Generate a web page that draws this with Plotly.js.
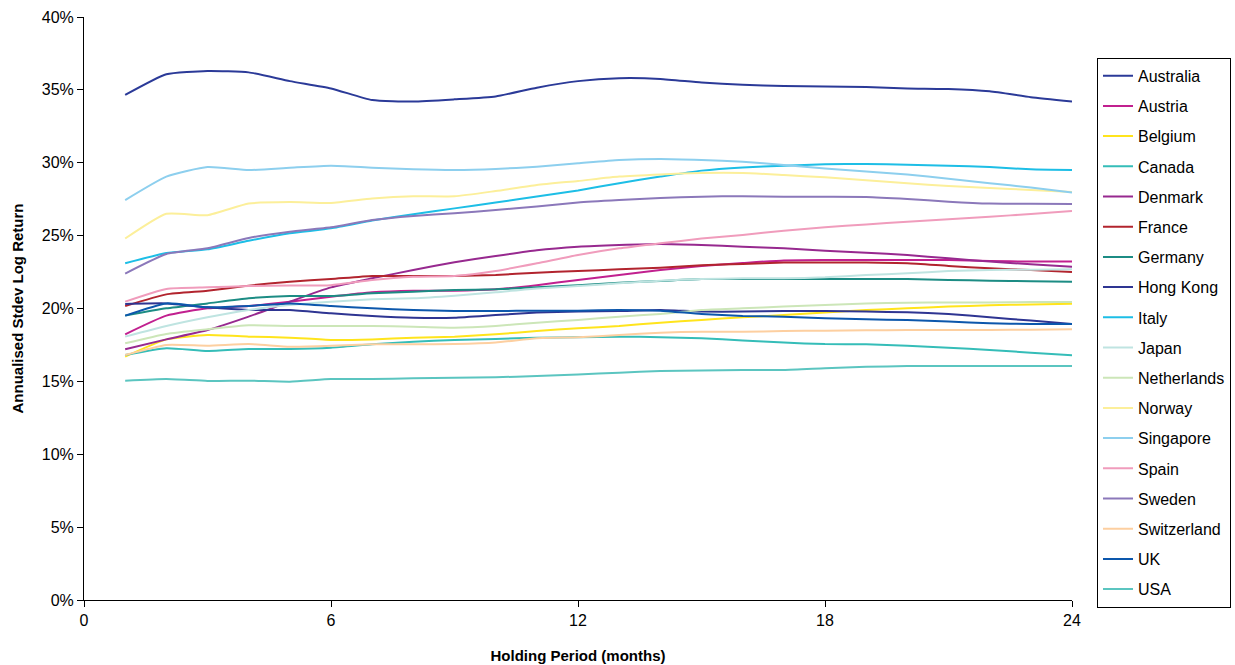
<!DOCTYPE html>
<html>
<head>
<meta charset="utf-8">
<script src="https://cdn.plot.ly/plotly-3.0.1.min.js"></script>
<style>html,body{margin:0;padding:0;background:#fff;}#chart{width:1235px;height:665px;}</style>
</head>
<body>
<div id="chart"></div>
<script>
const months = [1,2,3,4,5,6,7,8,9,10,11,12,13,14,15,16,17,18,19,20,21,22,23,24];

const australia   = [34.65,36.07,36.3,36.2,35.6,35.1,34.3,34.2,34.35,34.55,35.15,35.6,35.8,35.75,35.5,35.35,35.27,35.23,35.2,35.1,35.06,34.9,34.5,34.2];
const austria     = [18.23,19.51,20.01,20.17,20.47,20.81,21.11,21.22,21.22,21.32,21.6,21.96,22.3,22.64,22.92,23.12,23.3,23.33,23.33,23.33,23.33,23.26,23.22,23.22];
const belgium     = [16.7,17.88,18.18,18.07,18.0,17.84,17.88,18.0,18.07,18.23,18.46,18.64,18.8,19.03,19.21,19.4,19.55,19.72,19.9,20.01,20.13,20.22,20.28,20.33];
const canada      = [16.81,17.27,17.08,17.22,17.22,17.31,17.54,17.72,17.84,17.91,18.0,18.03,18.07,18.03,17.96,17.8,17.66,17.56,17.54,17.45,17.31,17.15,16.97,16.79];
const denmark     = [17.2,17.88,18.52,19.44,20.47,21.45,22.07,22.64,23.17,23.6,24.0,24.24,24.36,24.43,24.36,24.24,24.13,23.97,23.83,23.67,23.44,23.22,23.03,22.87];
const france      = [20.17,20.97,21.22,21.57,21.84,22.02,22.23,22.23,22.23,22.3,22.46,22.57,22.69,22.8,22.96,23.06,23.15,23.15,23.15,23.1,22.92,22.76,22.64,22.5];
const germany     = [19.51,20.01,20.35,20.7,20.86,20.86,21.04,21.15,21.27,21.32,21.45,21.6,21.77,21.89,22.02,22.02,22.02,22.02,22.02,22.02,21.96,21.91,21.87,21.84];
const hongKong    = [20.31,20.35,20.08,19.9,19.9,19.67,19.49,19.37,19.37,19.55,19.72,19.79,19.83,19.9,19.79,19.79,19.83,19.83,19.79,19.74,19.62,19.4,19.17,18.94];
const italy       = [23.1,23.8,24.06,24.65,25.16,25.5,26.03,26.47,26.87,27.27,27.68,28.1,28.6,29.05,29.46,29.68,29.8,29.9,29.92,29.87,29.8,29.7,29.55,29.5];
const japan       = [18.07,18.8,19.4,19.9,20.24,20.47,20.63,20.7,20.88,21.11,21.38,21.54,21.73,21.91,22.02,22.07,22.07,22.14,22.3,22.41,22.57,22.64,22.66,22.69];
const netherlands = [17.61,18.25,18.57,18.85,18.8,18.8,18.8,18.75,18.68,18.8,19.03,19.21,19.44,19.62,19.9,20.01,20.13,20.24,20.35,20.4,20.42,20.42,20.44,20.45];
const norway      = [24.8,26.5,26.4,27.2,27.3,27.24,27.54,27.7,27.7,28.06,28.47,28.75,29.05,29.2,29.3,29.3,29.16,29.0,28.8,28.6,28.4,28.27,28.13,28.0];
const singapore   = [27.44,29.05,29.7,29.5,29.66,29.8,29.66,29.55,29.5,29.57,29.73,29.96,30.19,30.26,30.19,30.07,29.85,29.6,29.4,29.2,28.9,28.6,28.3,27.95];
const spain       = [20.47,21.34,21.45,21.54,21.57,21.6,21.96,22.18,22.23,22.57,23.1,23.67,24.13,24.47,24.8,25.05,25.34,25.57,25.77,25.96,26.12,26.3,26.48,26.69];
const sweden      = [22.4,23.74,24.13,24.84,25.27,25.57,26.07,26.35,26.53,26.76,26.99,27.27,27.44,27.58,27.67,27.71,27.67,27.66,27.65,27.51,27.33,27.2,27.18,27.17];
const switzerland = [16.81,17.5,17.45,17.56,17.38,17.45,17.54,17.54,17.56,17.66,17.96,18.03,18.18,18.34,18.41,18.41,18.45,18.48,18.5,18.52,18.52,18.52,18.55,18.57];
const uk          = [19.51,20.35,20.08,20.17,20.35,20.17,20.01,19.9,19.83,19.83,19.85,19.85,19.9,19.85,19.62,19.49,19.44,19.33,19.26,19.21,19.1,18.99,18.94,18.94];
const usa         = [15.05,15.16,15.03,15.05,14.98,15.16,15.16,15.21,15.25,15.28,15.37,15.48,15.6,15.71,15.74,15.78,15.78,15.9,16.0,16.05,16.05,16.05,16.05,16.05];

const countries = ["Australia","Austria","Belgium","Canada","Denmark","France","Germany","Hong Kong","Italy","Japan","Netherlands","Norway","Singapore","Spain","Sweden","Switzerland","UK","USA"];
const seriesValues = [australia,austria,belgium,canada,denmark,france,germany,hongKong,italy,japan,netherlands,norway,singapore,spain,sweden,switzerland,uk,usa];
const colors = ["#2B3A98","#C1208F","#FFE41C","#35BDB8","#97298F","#B2242E","#1C8C84","#2E3592","#1DBEE6","#BFE4E1","#CCE6B8","#FCEF9A","#8DCFEE","#F09CBC","#8B78BA","#FDCFA0","#0C57AC","#5BC5C0"];

const traces = countries.map((name, i) => ({
  x: months,
  y: seriesValues[i].map(v => v / 100),
  type: "scatter",
  mode: "lines",
  name: name,
  legendgroup: "g" + i,
  line: {color: colors[i], width: 2, shape: "spline", smoothing: 0.5}
}));

const layout = {
  width: 1235,
  height: 665,
  margin: {l: 84, r: 163, t: 17, b: 65, autoexpand: false},
  paper_bgcolor: "#ffffff",
  plot_bgcolor: "#ffffff",
  font: {family: "Liberation Sans, Arial, sans-serif", size: 16, color: "#000"},
  showlegend: true,
  legend: {
    x: 1.0253, xanchor: "left",
    y: 0.93, yanchor: "top",
    bordercolor: "#000", borderwidth: 1,
    font: {size: 16, color: "#000"},
    tracegroupgap: 6.4,
    itemwidth: 30,
    maxheight: 640
  },
  xaxis: {
    range: [0, 24],
    tickvals: [0, 6, 12, 18, 24],
    ticks: "outside", ticklen: 6, tickcolor: "#000",
    showline: true, linecolor: "#000", linewidth: 1,
    showgrid: false, zeroline: false,
    tickfont: {size: 16},
    title: {text: "<b>Holding Period (months)</b>", font: {size: 15}, standoff: 22}
  },
  yaxis: {
    range: [0, 0.40],
    tickvals: [0,0.05,0.10,0.15,0.20,0.25,0.30,0.35,0.40],
    tickformat: ".0%",
    ticks: "outside", ticklen: 6, tickcolor: "#000",
    showline: true, linecolor: "#000", linewidth: 1,
    showgrid: false, zeroline: false,
    tickfont: {size: 16},
    title: {text: "<b>Annualised Stdev Log Return</b>", font: {size: 15}, standoff: 14}
  }
};

Plotly.newPlot("chart", traces, layout, {displayModeBar: false, staticPlot: true});
</script>
</body>
</html>
